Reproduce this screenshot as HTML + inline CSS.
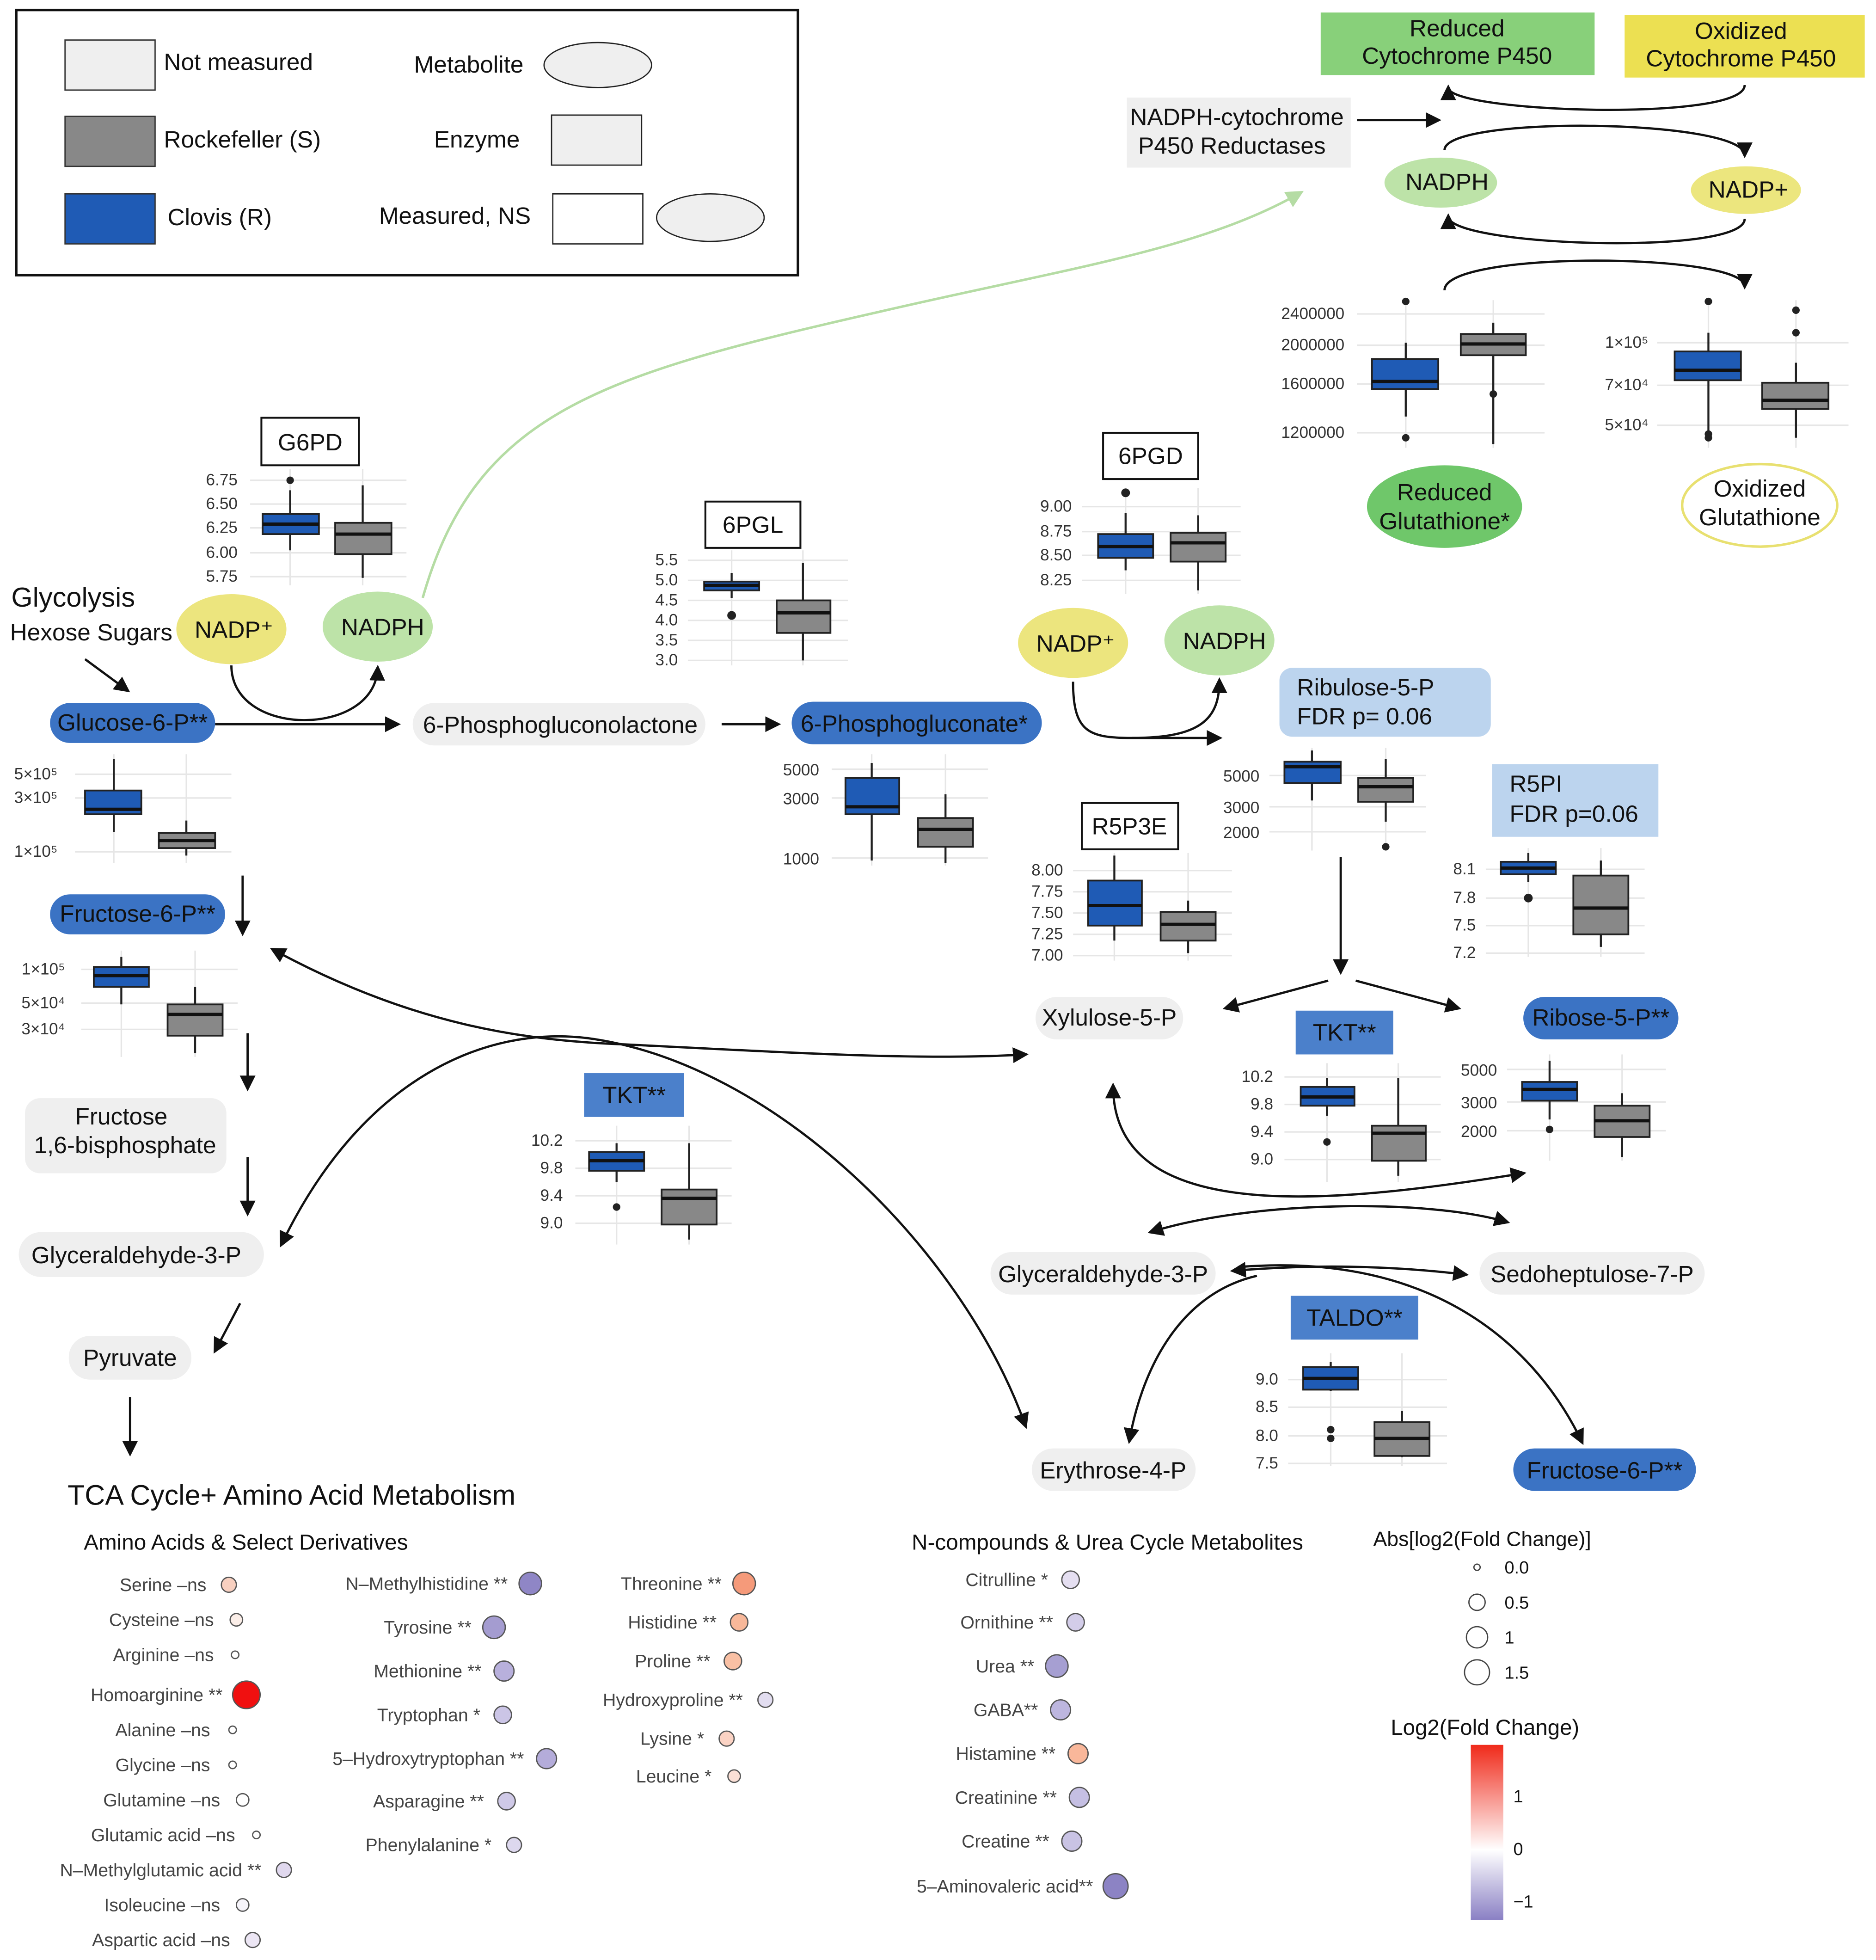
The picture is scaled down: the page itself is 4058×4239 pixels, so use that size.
<!DOCTYPE html>
<html><head><meta charset="utf-8"><style>
html,body{margin:0;padding:0;background:#fff}
svg{display:block}
text{font-family:"Liberation Sans",Arial,sans-serif}
.n{font-size:19px;fill:#111}
.t{font-size:13px;fill:#333}
.d{font-size:14.5px;fill:#444}
.g{stroke:#e6e6e6;stroke-width:1.2}
.w{stroke:#222;stroke-width:1.6}
.bb{fill:#1f5bb5;stroke:#222;stroke-width:1.4}
.gb{fill:#888;stroke:#222;stroke-width:1.4}
.md{stroke:#111;stroke-width:2.6}
.a{fill:none;stroke:#111;stroke-width:1.8}
</style></head><body>
<svg width="4058" height="4239" viewBox="0 0 1500 1567" preserveAspectRatio="none" xmlns="http://www.w3.org/2000/svg">
<defs>
<marker id="ar" viewBox="0 0 10 10" refX="8" refY="5" markerWidth="7" markerHeight="7" orient="auto-start-reverse"><path d="M0,0L10,5L0,10z" fill="#111"/></marker>
<marker id="ag" viewBox="0 0 10 10" refX="8" refY="5" markerWidth="7" markerHeight="7" orient="auto"><path d="M0,0L10,5L0,10z" fill="#b5dca4"/></marker>
<linearGradient id="lg" x1="0" y1="0" x2="0" y2="1"><stop offset="0" stop-color="#f02a1a"/><stop offset="0.6" stop-color="#fff"/><stop offset="1" stop-color="#8a80c4"/></linearGradient>
</defs>
<rect width="1500" height="1567" fill="#fff"/>
<!-- Legend -->
<rect x="13" y="8" width="625" height="212" fill="none" stroke="#111" stroke-width="2"/>
<rect x="52" y="32" width="72" height="40" fill="#efefef" stroke="#333"/><text x="131" y="56" class="n">Not measured</text>
<rect x="52" y="93" width="72" height="40" fill="#888" stroke="#333"/><text x="131" y="118" class="n">Rockefeller (S)</text>
<rect x="52" y="155" width="72" height="40" fill="#1f5bb5" stroke="#333"/><text x="134" y="180" class="n">Clovis (R)</text>
<text x="331" y="58" class="n">Metabolite</text><ellipse cx="478" cy="52" rx="43" ry="18" fill="#efefef" stroke="#222"/>
<text x="347" y="118" class="n">Enzyme</text><rect x="441" y="92" width="72" height="40" fill="#efefef" stroke="#222"/>
<text x="303" y="179" class="n">Measured, NS</text><rect x="442" y="155" width="72" height="40" fill="#fff" stroke="#222"/><ellipse cx="568" cy="174" rx="43" ry="19" fill="#efefef" stroke="#222"/>

<!-- Top right -->
<rect x="1056" y="10" width="219" height="50" fill="#88d07a"/><text x="1165" y="29" class="n" text-anchor="middle">Reduced</text><text x="1165" y="51" class="n" text-anchor="middle">Cytochrome P450</text>
<rect x="1299" y="12" width="192" height="50" fill="#ece052"/><text x="1392" y="31" class="n" text-anchor="middle">Oxidized</text><text x="1392" y="53" class="n" text-anchor="middle">Cytochrome P450</text>
<rect x="901" y="78" width="179" height="56" fill="#efefef"/><text x="989" y="100" class="n" text-anchor="middle">NADPH-cytochrome</text><text x="985" y="123" class="n" text-anchor="middle">P450 Reductases</text>
<line x1="1085" y1="96" x2="1150" y2="96" class="a" marker-end="url(#ar)"/>
<path d="M1395,68 C1395,98 1158,90 1158,70" class="a" marker-end="url(#ar)"/>
<path d="M1155,120 C1155,92 1395,95 1395,124" class="a" marker-end="url(#ar)"/>
<ellipse cx="1152" cy="146" rx="45" ry="20" fill="#bde3a8"/><text x="1157" y="152" class="n" text-anchor="middle">NADPH</text>
<ellipse cx="1396" cy="152" rx="44" ry="19" fill="#ece67e"/><text x="1398" y="158" class="n" text-anchor="middle">NADP+</text>
<path d="M1395,175 C1395,205 1158,197 1158,173" class="a" marker-end="url(#ar)"/>
<path d="M1155,232 C1155,200 1395,202 1395,229" class="a" marker-end="url(#ar)"/>

<!-- Reduced glutathione chart -->
<g><line x1="1085" y1="251" x2="1235" y2="251" class="g"/><line x1="1085" y1="276" x2="1235" y2="276" class="g"/><line x1="1085" y1="307" x2="1235" y2="307" class="g"/><line x1="1085" y1="346" x2="1235" y2="346" class="g"/><line x1="1124" y1="240" x2="1124" y2="358" class="g"/><line x1="1194" y1="240" x2="1194" y2="358" class="g"/>
<text x="1075" y="255" class="t" text-anchor="end">2400000</text><text x="1075" y="280" class="t" text-anchor="end">2000000</text><text x="1075" y="311" class="t" text-anchor="end">1600000</text><text x="1075" y="350" class="t" text-anchor="end">1200000</text>
<line x1="1124" y1="274" x2="1124" y2="333" class="w"/><rect x="1097" y="287" width="53" height="24" class="bb"/><line x1="1097" y1="305" x2="1150" y2="305" class="md"/><circle cx="1124" cy="241" r="3" fill="#222"/><circle cx="1124" cy="350" r="3" fill="#222"/>
<line x1="1194" y1="258" x2="1194" y2="355" class="w"/><rect x="1168" y="267" width="52" height="17" class="gb"/><line x1="1168" y1="275" x2="1220" y2="275" class="md"/><circle cx="1194" cy="315" r="3" fill="#222"/></g>
<!-- Oxidized chart -->
<g><line x1="1325" y1="274" x2="1478" y2="274" class="g"/><line x1="1325" y1="308" x2="1478" y2="308" class="g"/><line x1="1325" y1="340" x2="1478" y2="340" class="g"/><line x1="1366" y1="240" x2="1366" y2="358" class="g"/><line x1="1436" y1="240" x2="1436" y2="358" class="g"/>
<text x="1318" y="278" class="t" text-anchor="end">1×10⁵</text><text x="1318" y="312" class="t" text-anchor="end">7×10⁴</text><text x="1318" y="344" class="t" text-anchor="end">5×10⁴</text>
<line x1="1366" y1="266" x2="1366" y2="345" class="w"/><rect x="1339" y="281" width="53" height="23" class="bb"/><line x1="1339" y1="296" x2="1392" y2="296" class="md"/><circle cx="1366" cy="241" r="3" fill="#222"/><circle cx="1366" cy="347" r="3" fill="#222"/><circle cx="1366" cy="350" r="3" fill="#222"/>
<line x1="1436" y1="290" x2="1436" y2="350" class="w"/><rect x="1409" y="306" width="53" height="21" class="gb"/><line x1="1409" y1="320" x2="1462" y2="320" class="md"/><circle cx="1436" cy="248" r="3" fill="#222"/><circle cx="1436" cy="266" r="3" fill="#222"/></g>
<ellipse cx="1155" cy="405" rx="62" ry="33" fill="#6fc76a"/><text x="1155" y="400" class="n" text-anchor="middle">Reduced</text><text x="1155" y="423" class="n" text-anchor="middle">Glutathione*</text>
<ellipse cx="1407" cy="404" rx="62" ry="33" fill="#fff" stroke="#e8e070" stroke-width="2"/><text x="1407" y="397" class="n" text-anchor="middle">Oxidized</text><text x="1407" y="420" class="n" text-anchor="middle">Glutathione</text>

<path d="M338,478 C380,330 480,300 700,250 C850,215 960,200 1040,154" fill="none" stroke="#b5dca4" stroke-width="2" marker-end="url(#ag)"/>

<!-- G6PD -->
<rect x="209" y="334" width="78" height="38" fill="#fff" stroke="#111" stroke-width="1.5"/><text x="248" y="360" class="n" text-anchor="middle">G6PD</text>
<g><line x1="200" y1="384" x2="325" y2="384" class="g"/><line x1="200" y1="403" x2="325" y2="403" class="g"/><line x1="200" y1="422" x2="325" y2="422" class="g"/><line x1="200" y1="442" x2="325" y2="442" class="g"/><line x1="200" y1="461" x2="325" y2="461" class="g"/><line x1="232" y1="375" x2="232" y2="468" class="g"/><line x1="290" y1="375" x2="290" y2="468" class="g"/>
<text x="190" y="388" class="t" text-anchor="end">6.75</text><text x="190" y="407" class="t" text-anchor="end">6.50</text><text x="190" y="426" class="t" text-anchor="end">6.25</text><text x="190" y="446" class="t" text-anchor="end">6.00</text><text x="190" y="465" class="t" text-anchor="end">5.75</text>
<line x1="232" y1="392" x2="232" y2="440" class="w"/><rect x="210" y="411" width="45" height="16" class="bb"/><line x1="210" y1="419" x2="255" y2="419" class="md"/><circle cx="232" cy="384" r="3" fill="#222"/>
<line x1="290" y1="388" x2="290" y2="462" class="w"/><rect x="268" y="418" width="45" height="25" class="gb"/><line x1="268" y1="427" x2="313" y2="427" class="md"/></g>
<text x="9" y="485" style="font-size:22px;fill:#111">Glycolysis</text><text x="8" y="512" style="font-size:19px;fill:#111">Hexose Sugars</text>
<line x1="68" y1="527" x2="102" y2="552" class="a" marker-end="url(#ar)"/>
<ellipse cx="185" cy="503" rx="44" ry="28" fill="#ece57e"/><text x="187" y="510" class="n" text-anchor="middle">NADP⁺</text>
<ellipse cx="302" cy="501" rx="44" ry="28" fill="#bde3a8"/><text x="306" y="508" class="n" text-anchor="middle">NADPH</text>
<path d="M185,532 C185,590 300,590 302,534" class="a" marker-end="url(#ar)"/>
<rect x="40" y="562" width="132" height="32" rx="16" fill="#3b73c4"/><text x="106" y="584" class="n" text-anchor="middle">Glucose-6-P**</text>
<line x1="172" y1="579" x2="318" y2="579" class="a" marker-end="url(#ar)"/>
<rect x="330" y="562" width="234" height="34" rx="17" fill="#efefef"/><text x="448" y="586" class="n" text-anchor="middle">6-Phosphogluconolactone</text>
<line x1="577" y1="579" x2="622" y2="579" class="a" marker-end="url(#ar)"/>
<rect x="633" y="561" width="200" height="34" rx="17" fill="#3b73c4"/><text x="731" y="585" class="n" text-anchor="middle">6-Phosphogluconate*</text>
<!-- glucose chart -->
<g><line x1="60" y1="619" x2="185" y2="619" class="g"/><line x1="60" y1="638" x2="185" y2="638" class="g"/><line x1="60" y1="681" x2="185" y2="681" class="g"/><line x1="91" y1="603" x2="91" y2="690" class="g"/><line x1="149" y1="603" x2="149" y2="690" class="g"/>
<text x="46" y="623" class="t" text-anchor="end">5×10⁵</text><text x="46" y="642" class="t" text-anchor="end">3×10⁵</text><text x="46" y="685" class="t" text-anchor="end">1×10⁵</text>
<line x1="91" y1="607" x2="91" y2="665" class="w"/><rect x="68" y="632" width="45" height="19" class="bb"/><line x1="68" y1="647" x2="113" y2="647" class="md"/>
<line x1="149" y1="656" x2="149" y2="684" class="w"/><rect x="127" y="666" width="45" height="12" class="gb"/><line x1="127" y1="672" x2="172" y2="672" class="md"/></g>
<!-- 6PGL -->
<rect x="564" y="401" width="76" height="37" fill="#fff" stroke="#111" stroke-width="1.5"/><text x="602" y="426" class="n" text-anchor="middle">6PGL</text>
<g><line x1="550" y1="448" x2="678" y2="448" class="g"/><line x1="550" y1="464" x2="678" y2="464" class="g"/><line x1="550" y1="480" x2="678" y2="480" class="g"/><line x1="550" y1="496" x2="678" y2="496" class="g"/><line x1="550" y1="512" x2="678" y2="512" class="g"/><line x1="550" y1="528" x2="678" y2="528" class="g"/><line x1="585" y1="440" x2="585" y2="532" class="g"/><line x1="642" y1="440" x2="642" y2="532" class="g"/>
<text x="542" y="452" class="t" text-anchor="end">5.5</text><text x="542" y="468" class="t" text-anchor="end">5.0</text><text x="542" y="484" class="t" text-anchor="end">4.5</text><text x="542" y="500" class="t" text-anchor="end">4.0</text><text x="542" y="516" class="t" text-anchor="end">3.5</text><text x="542" y="532" class="t" text-anchor="end">3.0</text>
<line x1="585" y1="458" x2="585" y2="478" class="w"/><rect x="563" y="465" width="44" height="7" class="bb"/><line x1="563" y1="468" x2="607" y2="468" class="md"/><circle cx="585" cy="492" r="3.5" fill="#222"/>
<line x1="642" y1="450" x2="642" y2="528" class="w"/><rect x="621" y="480" width="43" height="26" class="gb"/><line x1="621" y1="490" x2="664" y2="490" class="md"/></g>
<!-- 6PG chart -->
<g><line x1="665" y1="615" x2="790" y2="615" class="g"/><line x1="665" y1="638" x2="790" y2="638" class="g"/><line x1="665" y1="686" x2="790" y2="686" class="g"/><line x1="697" y1="603" x2="697" y2="692" class="g"/><line x1="756" y1="603" x2="756" y2="692" class="g"/>
<text x="655" y="620" class="t" text-anchor="end">5000</text><text x="655" y="643" class="t" text-anchor="end">3000</text><text x="655" y="691" class="t" text-anchor="end">1000</text>
<line x1="697" y1="610" x2="697" y2="688" class="w"/><rect x="676" y="622" width="43" height="29" class="bb"/><line x1="676" y1="645" x2="719" y2="645" class="md"/>
<line x1="756" y1="635" x2="756" y2="690" class="w"/><rect x="734" y="654" width="44" height="23" class="gb"/><line x1="734" y1="663" x2="778" y2="663" class="md"/></g>
<!-- 6PGD -->
<rect x="882" y="346" width="76" height="37" fill="#fff" stroke="#111" stroke-width="1.5"/><text x="920" y="371" class="n" text-anchor="middle">6PGD</text>
<g><line x1="865" y1="405" x2="992" y2="405" class="g"/><line x1="865" y1="425" x2="992" y2="425" class="g"/><line x1="865" y1="444" x2="992" y2="444" class="g"/><line x1="865" y1="464" x2="992" y2="464" class="g"/><line x1="900" y1="390" x2="900" y2="475" class="g"/><line x1="958" y1="390" x2="958" y2="475" class="g"/>
<text x="857" y="409" class="t" text-anchor="end">9.00</text><text x="857" y="429" class="t" text-anchor="end">8.75</text><text x="857" y="448" class="t" text-anchor="end">8.50</text><text x="857" y="468" class="t" text-anchor="end">8.25</text>
<line x1="900" y1="410" x2="900" y2="456" class="w"/><rect x="878" y="427" width="44" height="19" class="bb"/><line x1="878" y1="437" x2="922" y2="437" class="md"/><circle cx="900" cy="394" r="3.5" fill="#222"/>
<line x1="958" y1="412" x2="958" y2="472" class="w"/><rect x="936" y="426" width="44" height="23" class="gb"/><line x1="936" y1="434" x2="980" y2="434" class="md"/></g>
<ellipse cx="858" cy="514" rx="44" ry="28" fill="#ece57e"/><text x="860" y="521" class="n" text-anchor="middle">NADP⁺</text>
<ellipse cx="975" cy="512" rx="44" ry="28" fill="#bde3a8"/><text x="979" y="519" class="n" text-anchor="middle">NADPH</text>
<path d="M858,545 C858,585 870,590 905,590 L975,590" class="a" marker-end="url(#ar)"/>
<path d="M905,590 C960,590 975,575 975,544" class="a" marker-end="url(#ar)"/>
<rect x="1023" y="534" width="169" height="55" rx="10" fill="#bcd4ee"/><text x="1037" y="556" class="n">Ribulose-5-P</text><text x="1037" y="579" class="n">FDR p= 0.06</text>
<g><line x1="1015" y1="620" x2="1140" y2="620" class="g"/><line x1="1015" y1="645" x2="1140" y2="645" class="g"/><line x1="1015" y1="665" x2="1140" y2="665" class="g"/><line x1="1049" y1="598" x2="1049" y2="680" class="g"/><line x1="1108" y1="598" x2="1108" y2="680" class="g"/>
<text x="1007" y="625" class="t" text-anchor="end">5000</text><text x="1007" y="650" class="t" text-anchor="end">3000</text><text x="1007" y="670" class="t" text-anchor="end">2000</text>
<line x1="1049" y1="600" x2="1049" y2="640" class="w"/><rect x="1027" y="609" width="45" height="17" class="bb"/><line x1="1027" y1="613" x2="1072" y2="613" class="md"/>
<line x1="1108" y1="607" x2="1108" y2="657" class="w"/><rect x="1086" y="622" width="44" height="19" class="gb"/><line x1="1086" y1="629" x2="1130" y2="629" class="md"/><circle cx="1108" cy="677" r="3" fill="#222"/></g>
<rect x="1193" y="611" width="133" height="58" fill="#bcd4ee"/><text x="1207" y="633" class="n">R5PI</text><text x="1207" y="657" class="n">FDR p=0.06</text>
<g><line x1="1188" y1="695" x2="1315" y2="695" class="g"/><line x1="1188" y1="718" x2="1315" y2="718" class="g"/><line x1="1188" y1="740" x2="1315" y2="740" class="g"/><line x1="1188" y1="762" x2="1315" y2="762" class="g"/><line x1="1222" y1="678" x2="1222" y2="765" class="g"/><line x1="1280" y1="678" x2="1280" y2="765" class="g"/>
<text x="1180" y="699" class="t" text-anchor="end">8.1</text><text x="1180" y="722" class="t" text-anchor="end">7.8</text><text x="1180" y="744" class="t" text-anchor="end">7.5</text><text x="1180" y="766" class="t" text-anchor="end">7.2</text>
<line x1="1222" y1="682" x2="1222" y2="705" class="w"/><rect x="1200" y="689" width="44" height="10" class="bb"/><line x1="1200" y1="694" x2="1244" y2="694" class="md"/><circle cx="1222" cy="718" r="3.5" fill="#222"/>
<line x1="1280" y1="688" x2="1280" y2="757" class="w"/><rect x="1258" y="700" width="44" height="47" class="gb"/><line x1="1258" y1="726" x2="1302" y2="726" class="md"/></g>
<rect x="865" y="642" width="77" height="37" fill="#fff" stroke="#111" stroke-width="1.5"/><text x="903" y="667" class="n" text-anchor="middle">R5P3E</text>
<g><line x1="858" y1="696" x2="985" y2="696" class="g"/><line x1="858" y1="713" x2="985" y2="713" class="g"/><line x1="858" y1="730" x2="985" y2="730" class="g"/><line x1="858" y1="747" x2="985" y2="747" class="g"/><line x1="858" y1="764" x2="985" y2="764" class="g"/><line x1="891" y1="682" x2="891" y2="768" class="g"/><line x1="950" y1="682" x2="950" y2="768" class="g"/>
<text x="850" y="700" class="t" text-anchor="end">8.00</text><text x="850" y="717" class="t" text-anchor="end">7.75</text><text x="850" y="734" class="t" text-anchor="end">7.50</text><text x="850" y="751" class="t" text-anchor="end">7.25</text><text x="850" y="768" class="t" text-anchor="end">7.00</text>
<line x1="891" y1="684" x2="891" y2="752" class="w"/><rect x="870" y="704" width="43" height="36" class="bb"/><line x1="870" y1="724" x2="913" y2="724" class="md"/>
<line x1="950" y1="720" x2="950" y2="762" class="w"/><rect x="928" y="729" width="44" height="23" class="gb"/><line x1="928" y1="739" x2="972" y2="739" class="md"/></g>
<line x1="1072" y1="685" x2="1072" y2="777" class="a" marker-end="url(#ar)"/>
<line x1="1062" y1="784" x2="980" y2="806" class="a" marker-end="url(#ar)"/>
<line x1="1084" y1="784" x2="1166" y2="806" class="a" marker-end="url(#ar)"/>
<rect x="828" y="797" width="118" height="34" rx="17" fill="#efefef"/><text x="887" y="820" class="n" text-anchor="middle">Xylulose-5-P</text>
<rect x="1218" y="797" width="124" height="34" rx="17" fill="#3b73c4"/><text x="1280" y="820" class="n" text-anchor="middle">Ribose-5-P**</text>
<rect x="1036" y="808" width="78" height="35" fill="#4b80cb"/><text x="1075" y="832" class="n" text-anchor="middle">TKT**</text>
<g><line x1="1027" y1="861" x2="1152" y2="861" class="g"/><line x1="1027" y1="883" x2="1152" y2="883" class="g"/><line x1="1027" y1="905" x2="1152" y2="905" class="g"/><line x1="1027" y1="927" x2="1152" y2="927" class="g"/><line x1="1061" y1="850" x2="1061" y2="945" class="g"/><line x1="1118" y1="850" x2="1118" y2="945" class="g"/>
<text x="1018" y="865" class="t" text-anchor="end">10.2</text><text x="1018" y="887" class="t" text-anchor="end">9.8</text><text x="1018" y="909" class="t" text-anchor="end">9.4</text><text x="1018" y="931" class="t" text-anchor="end">9.0</text>
<line x1="1061" y1="862" x2="1061" y2="892" class="w"/><rect x="1040" y="869" width="43" height="15" class="bb"/><line x1="1040" y1="877" x2="1083" y2="877" class="md"/><circle cx="1061" cy="913" r="3" fill="#222"/>
<line x1="1118" y1="862" x2="1118" y2="940" class="w"/><rect x="1097" y="900" width="43" height="28" class="gb"/><line x1="1097" y1="906" x2="1140" y2="906" class="md"/></g>
<g><line x1="1205" y1="855" x2="1332" y2="855" class="g"/><line x1="1205" y1="881" x2="1332" y2="881" class="g"/><line x1="1205" y1="904" x2="1332" y2="904" class="g"/><line x1="1239" y1="843" x2="1239" y2="928" class="g"/><line x1="1297" y1="843" x2="1297" y2="928" class="g"/>
<text x="1197" y="860" class="t" text-anchor="end">5000</text><text x="1197" y="886" class="t" text-anchor="end">3000</text><text x="1197" y="909" class="t" text-anchor="end">2000</text>
<line x1="1239" y1="848" x2="1239" y2="895" class="w"/><rect x="1217" y="865" width="44" height="15" class="bb"/><line x1="1217" y1="871" x2="1261" y2="871" class="md"/><circle cx="1239" cy="903" r="3" fill="#222"/>
<line x1="1297" y1="874" x2="1297" y2="925" class="w"/><rect x="1275" y="884" width="44" height="25" class="gb"/><line x1="1275" y1="896" x2="1319" y2="896" class="md"/></g>
<path d="M890,868 C890,985 1080,960 1218,938" class="a" marker-start="url(#ar)" marker-end="url(#ar)"/>
<path d="M920,985 C1000,960 1140,958 1205,977" class="a" marker-start="url(#ar)" marker-end="url(#ar)"/>
<rect x="792" y="1001" width="180" height="34" rx="17" fill="#efefef"/><text x="882" y="1025" class="n" text-anchor="middle">Glyceraldehyde-3-P</text>
<rect x="1183" y="1001" width="180" height="34" rx="17" fill="#efefef"/><text x="1273" y="1025" class="n" text-anchor="middle">Sedoheptulose-7-P</text>
<path d="M986,1016 Q1080,1008 1172,1019" class="a" marker-start="url(#ar)" marker-end="url(#ar)"/>
<path d="M1005,1020 C940,1035 912,1100 903,1152" class="a" marker-end="url(#ar)"/>
<path d="M990,1013 C1150,1000 1230,1080 1265,1153" class="a" marker-end="url(#ar)"/>
<rect x="1032" y="1036" width="102" height="35" fill="#4b80cb"/><text x="1083" y="1060" class="n" text-anchor="middle">TALDO**</text>
<g><line x1="1030" y1="1103" x2="1157" y2="1103" class="g"/><line x1="1030" y1="1125" x2="1157" y2="1125" class="g"/><line x1="1030" y1="1148" x2="1157" y2="1148" class="g"/><line x1="1030" y1="1170" x2="1157" y2="1170" class="g"/><line x1="1064" y1="1082" x2="1064" y2="1172" class="g"/><line x1="1121" y1="1082" x2="1121" y2="1172" class="g"/>
<text x="1022" y="1107" class="t" text-anchor="end">9.0</text><text x="1022" y="1129" class="t" text-anchor="end">8.5</text><text x="1022" y="1152" class="t" text-anchor="end">8.0</text><text x="1022" y="1174" class="t" text-anchor="end">7.5</text>
<line x1="1064" y1="1089" x2="1064" y2="1112" class="w"/><rect x="1042" y="1093" width="44" height="18" class="bb"/><line x1="1042" y1="1102" x2="1086" y2="1102" class="md"/><circle cx="1064" cy="1143" r="3" fill="#222"/><circle cx="1064" cy="1150" r="3" fill="#222"/>
<line x1="1121" y1="1128" x2="1121" y2="1165" class="w"/><rect x="1099" y="1137" width="44" height="27" class="gb"/><line x1="1099" y1="1150" x2="1143" y2="1150" class="md"/></g>
<rect x="825" y="1158" width="131" height="34" rx="17" fill="#efefef"/><text x="890" y="1182" class="n" text-anchor="middle">Erythrose-4-P</text>
<rect x="1210" y="1158" width="146" height="34" rx="17" fill="#3b73c4"/><text x="1283" y="1182" class="n" text-anchor="middle">Fructose-6-P**</text>

<!-- Left column -->
<rect x="40" y="715" width="140" height="32" rx="16" fill="#3b73c4"/><text x="110" y="737" class="n" text-anchor="middle">Fructose-6-P**</text>
<line x1="194" y1="700" x2="194" y2="746" class="a" marker-end="url(#ar)"/>
<g><line x1="65" y1="775" x2="190" y2="775" class="g"/><line x1="65" y1="802" x2="190" y2="802" class="g"/><line x1="65" y1="823" x2="190" y2="823" class="g"/><line x1="97" y1="760" x2="97" y2="845" class="g"/><line x1="156" y1="760" x2="156" y2="845" class="g"/>
<text x="52" y="779" class="t" text-anchor="end">1×10⁵</text><text x="52" y="806" class="t" text-anchor="end">5×10⁴</text><text x="52" y="827" class="t" text-anchor="end">3×10⁴</text>
<line x1="97" y1="765" x2="97" y2="803" class="w"/><rect x="75" y="773" width="44" height="16" class="bb"/><line x1="75" y1="780" x2="119" y2="780" class="md"/>
<line x1="156" y1="789" x2="156" y2="842" class="w"/><rect x="134" y="803" width="44" height="25" class="gb"/><line x1="134" y1="811" x2="178" y2="811" class="md"/></g>
<line x1="198" y1="826" x2="198" y2="870" class="a" marker-end="url(#ar)"/>
<rect x="20" y="878" width="161" height="60" rx="12" fill="#efefef"/><text x="97" y="899" class="n" text-anchor="middle">Fructose</text><text x="100" y="922" class="n" text-anchor="middle">1,6-bisphosphate</text>
<line x1="198" y1="925" x2="198" y2="970" class="a" marker-end="url(#ar)"/>
<rect x="15" y="985" width="196" height="36" rx="18" fill="#efefef"/><text x="109" y="1010" class="n" text-anchor="middle">Glyceraldehyde-3-P</text>
<line x1="192" y1="1042" x2="172" y2="1080" class="a" marker-end="url(#ar)"/>
<rect x="55" y="1068" width="98" height="35" rx="17" fill="#efefef"/><text x="104" y="1092" class="n" text-anchor="middle">Pyruvate</text>
<line x1="104" y1="1117" x2="104" y2="1162" class="a" marker-end="url(#ar)"/>
<rect x="467" y="858" width="80" height="35" fill="#4b80cb"/><text x="507" y="882" class="n" text-anchor="middle">TKT**</text>
<g><line x1="460" y1="912" x2="585" y2="912" class="g"/><line x1="460" y1="934" x2="585" y2="934" class="g"/><line x1="460" y1="956" x2="585" y2="956" class="g"/><line x1="460" y1="978" x2="585" y2="978" class="g"/><line x1="493" y1="900" x2="493" y2="995" class="g"/><line x1="551" y1="900" x2="551" y2="995" class="g"/>
<text x="450" y="916" class="t" text-anchor="end">10.2</text><text x="450" y="938" class="t" text-anchor="end">9.8</text><text x="450" y="960" class="t" text-anchor="end">9.4</text><text x="450" y="982" class="t" text-anchor="end">9.0</text>
<line x1="493" y1="914" x2="493" y2="945" class="w"/><rect x="471" y="921" width="44" height="15" class="bb"/><line x1="471" y1="928" x2="515" y2="928" class="md"/><circle cx="493" cy="965" r="3" fill="#222"/>
<line x1="551" y1="914" x2="551" y2="991" class="w"/><rect x="529" y="951" width="44" height="28" class="gb"/><line x1="529" y1="958" x2="573" y2="958" class="md"/></g>
<path d="M218,759 C330,820 420,832 500,835 C640,842 740,848 820,843" class="a" marker-start="url(#ar)" marker-end="url(#ar)"/>
<path d="M225,995 C290,860 390,820 470,830 C620,850 770,1000 820,1140" class="a" marker-start="url(#ar)" marker-end="url(#ar)"/>

<!-- Bottom -->
<text x="54" y="1203" style="font-size:22.5px;fill:#111">TCA Cycle+ Amino Acid Metabolism</text>
<text x="67" y="1239" style="font-size:17.6px;fill:#111">Amino Acids &amp; Select Derivatives</text>
<g class="d" text-anchor="end">
<text x="165" y="1272">Serine –ns</text><text x="171" y="1300">Cysteine –ns</text><text x="171" y="1328">Arginine –ns</text><text x="178" y="1360">Homoarginine **</text><text x="168" y="1388">Alanine –ns</text><text x="168" y="1416">Glycine –ns</text><text x="176" y="1444">Glutamine –ns</text><text x="188" y="1472">Glutamic acid –ns</text><text x="209" y="1500">N–Methylglutamic acid **</text><text x="176" y="1528">Isoleucine –ns</text><text x="184" y="1556">Aspartic acid –ns</text>
<text x="406" y="1271">N–Methylhistidine **</text><text x="377" y="1306">Tyrosine **</text><text x="385" y="1341">Methionine **</text><text x="384" y="1376">Tryptophan *</text><text x="419" y="1411">5–Hydroxytryptophan **</text><text x="387" y="1445">Asparagine **</text><text x="393" y="1480">Phenylalanine *</text>
<text x="577" y="1271">Threonine **</text><text x="573" y="1302">Histidine **</text><text x="568" y="1333">Proline **</text><text x="594" y="1364">Hydroxyproline **</text><text x="563" y="1395">Lysine *</text><text x="569" y="1425">Leucine *</text>
<text x="838" y="1268">Citrulline *</text><text x="842" y="1302">Ornithine **</text><text x="827" y="1337">Urea **</text><text x="830" y="1372">GABA**</text><text x="844" y="1407">Histamine **</text><text x="845" y="1442">Creatinine **</text><text x="839" y="1477">Creatine **</text><text x="874" y="1513">5–Aminovaleric acid**</text>
</g>
<g stroke="#555" stroke-width="1">
<circle cx="183" cy="1267" r="6" fill="#f8d0c0"/><circle cx="189" cy="1295" r="5" fill="#fbeee8"/><circle cx="188" cy="1323" r="3" fill="#fff"/><circle cx="197" cy="1355" r="11" fill="#f01010"/><circle cx="186" cy="1383" r="3" fill="#fff"/><circle cx="186" cy="1411" r="3" fill="#fff"/><circle cx="194" cy="1439" r="5" fill="#fff"/><circle cx="205" cy="1467" r="3" fill="#fff"/><circle cx="227" cy="1495" r="6" fill="#e0d8ee"/><circle cx="194" cy="1523" r="5" fill="#f6f4fa"/><circle cx="202" cy="1551" r="6" fill="#ece6f4"/>
<circle cx="424" cy="1266" r="9" fill="#8f86c6"/><circle cx="395" cy="1301" r="9" fill="#a49cd0"/><circle cx="403" cy="1336" r="8" fill="#b8b0dc"/><circle cx="402" cy="1371" r="7" fill="#cbc5e6"/><circle cx="437" cy="1406" r="8" fill="#b4acda"/><circle cx="405" cy="1440" r="7" fill="#cfc9e7"/><circle cx="411" cy="1475" r="6" fill="#ddd8ee"/>
<circle cx="595" cy="1266" r="9" fill="#f59a7a"/><circle cx="591" cy="1297" r="7" fill="#f8b89a"/><circle cx="586" cy="1328" r="7" fill="#f9c0a4"/><circle cx="612" cy="1359" r="6" fill="#e2ddf0"/><circle cx="581" cy="1390" r="6" fill="#fbd3c4"/><circle cx="587" cy="1420" r="5" fill="#fbe0d6"/>
<circle cx="856" cy="1263" r="7" fill="#e5dff1"/><circle cx="860" cy="1297" r="7" fill="#d3cde9"/><circle cx="845" cy="1332" r="9" fill="#a69fd2"/><circle cx="848" cy="1367" r="8" fill="#bdb6df"/><circle cx="862" cy="1402" r="8" fill="#f9b79a"/><circle cx="863" cy="1437" r="8" fill="#c5bfe3"/><circle cx="857" cy="1472" r="8" fill="#c9c3e4"/><circle cx="892" cy="1508" r="10" fill="#8c83c4"/>
</g>
<text x="729" y="1239" style="font-size:17.6px;fill:#111">N-compounds &amp; Urea Cycle Metabolites</text>
<text x="1098" y="1236" style="font-size:16.5px;fill:#111">Abs[log2(Fold Change)]</text>
<g stroke="#444" stroke-width="1" fill="#fff"><circle cx="1181" cy="1253" r="2.5"/><circle cx="1181" cy="1281" r="6.5"/><circle cx="1181" cy="1309" r="8.5"/><circle cx="1181" cy="1337" r="10"/></g>
<g style="font-size:14px;fill:#111"><text x="1203" y="1258">0.0</text><text x="1203" y="1286">0.5</text><text x="1203" y="1314">1</text><text x="1203" y="1342">1.5</text></g>
<text x="1112" y="1387" style="font-size:17.5px;fill:#111">Log2(Fold Change)</text>
<rect x="1176" y="1395" width="26" height="140" fill="url(#lg)"/>
<g style="font-size:14px;fill:#111"><text x="1210" y="1441">1</text><text x="1210" y="1483">0</text><text x="1210" y="1525">−1</text></g>
</svg>
</body></html>
